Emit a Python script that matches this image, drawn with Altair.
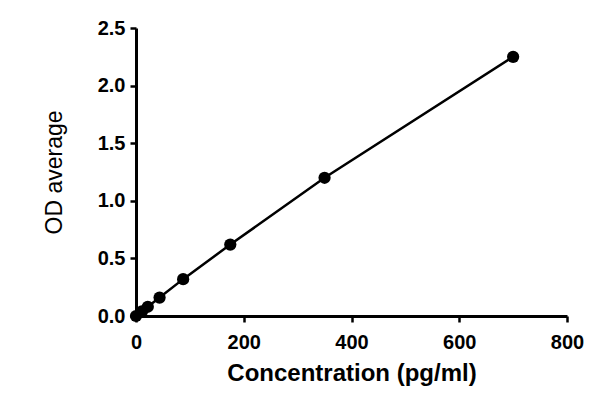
import altair as alt
import pandas as pd

conc = [0, 10.94, 21.88, 43.75, 87.5, 175, 350, 700]
od = [0.0, 0.04, 0.08, 0.16, 0.32, 0.62, 1.20, 2.25]

df = pd.DataFrame({"conc": conc, "od": od})

x = alt.X("conc:Q", scale=alt.Scale(domain=[0, 800], nice=False),
          axis=alt.Axis(title="Concentration (pg/ml)", values=[0, 200, 400, 600, 800],
                        titleFontWeight="bold", titleFontSize=24, titlePadding=9,
                        labelPadding=10, labelFlush=False))
y = alt.Y("od:Q", scale=alt.Scale(domain=[0, 2.5], nice=False),
          axis=alt.Axis(title="OD average", values=[0, 0.5, 1.0, 1.5, 2.0, 2.5], format=".1f",
                        titleFontWeight="normal", titleFontSize=23, titlePadding=31,
                        labelPadding=5, labelFlush=False))

base = alt.Chart(df)
line = base.mark_line(color="black", strokeWidth=2.5).encode(x=x, y=y)
pts = base.mark_point(filled=True, color="black", size=150, opacity=1).encode(x=x, y=y)

chart = (line + pts).properties(
    width=431, height=288,
    autosize=alt.AutoSizeParams(type="none"),
    padding={"left": 128, "top": 20, "right": 20, "bottom": 70},
).configure(background="white").configure_view(stroke=None).configure_axis(
    grid=False, domainColor="black", domainWidth=3, tickColor="black", tickWidth=2.5,
    tickSize=6, labelFont="Liberation Sans", labelFontWeight="bold", labelFontSize=20,
    labelColor="black", titleFont="Liberation Sans", titleColor="black",
)

chart.save("out.html", embed_options={"renderer": "svg", "actions": False})
